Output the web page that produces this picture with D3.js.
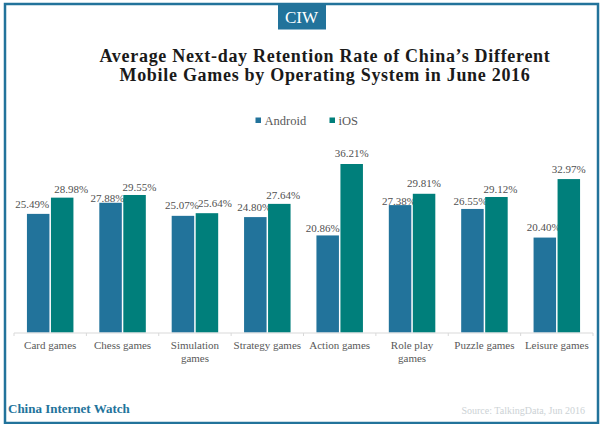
<!DOCTYPE html>
<html>
<head>
<meta charset="utf-8">
<script src="https://cdn.jsdelivr.net/npm/d3@7"></script>
<style>
  html, body { margin: 0; padding: 0; background: #fff; }
  text { font-family: "Liberation Serif", serif; }
</style>
</head>
<body>
<div id="chart"></div>
<script>
const categories = [["Card games"], ["Chess games"], ["Simulation", "games"], ["Strategy games"],
  ["Action games"], ["Role play", "games"], ["Puzzle games"], ["Leisure games"]];
const seriesNames = ["Android", "iOS"];
const android = [25.49, 27.88, 25.07, 24.80, 20.86, 27.38, 26.55, 20.40];
const ios = [28.98, 29.55, 25.64, 27.64, 36.21, 29.81, 29.12, 32.97];
const titleLines = ["Average Next-day Retention Rate of China’s Different", "Mobile Games by Operating System in June 2016"];

// labels sit by hand in the original, so each one has its own nudge from the bar
const androidLabelDx = [-6, -3, -1, -1, -5, -1, -2, -1];
const androidLabelDy = [6, 1, 7, 6.5, 3.5, 0, 4, 7];
const iosLabelDx = [9, 5, 8, 4, 0, 0, 4, 0];
const iosLabelDy = [5, 4, 6, 5, 7, 6.5, 4, 6.5];

const blue = "#22739b", teal = "#007f7b";
const width = 600, height = 424;

const svg = d3.select("#chart").append("svg")
  .attr("width", width)
  .attr("height", height)
  .style("display", "block");

// frame and CIW tab
svg.append("rect")
  .attr("x", 5).attr("y", 4)
  .attr("width", 593).attr("height", 419)
  .attr("fill", "#fff")
  .attr("stroke", blue)
  .attr("stroke-width", 2.5);
svg.append("rect")
  .attr("x", 278).attr("y", 3)
  .attr("width", 48).attr("height", 26.5)
  .attr("fill", blue);
svg.append("text")
  .attr("x", 301.5).attr("y", 23)
  .attr("text-anchor", "middle")
  .attr("font-size", 17)
  .attr("fill", "#fff")
  .text("CIW");

// title
svg.selectAll(".title").data(titleLines).enter().append("text")
  .attr("class", "title")
  .attr("x", 325)
  .attr("y", (d, i) => 61.5 + i * 19)
  .attr("text-anchor", "middle")
  .attr("font-size", 18)
  .attr("letter-spacing", 0.7)
  .attr("font-weight", "bold")
  .attr("fill", "#1a1a1a")
  .text(d => d);

// legend
const legendX = [255.5, 329.5];
seriesNames.forEach((name, i) => {
  svg.append("rect")
    .attr("x", legendX[i]).attr("y", 117.5)
    .attr("width", 5.5).attr("height", 5.5)
    .attr("fill", i ? teal : blue);
  svg.append("text")
    .attr("x", legendX[i] + 9).attr("y", 125)
    .attr("font-size", 12.5)
    .attr("fill", "#595959")
    .text(name);
});

// scales
const x = d3.scaleBand().domain(d3.range(categories.length)).range([14, 593]);
const y = d3.scaleLinear().domain([0, 36.21]).range([332.5, 164]);
const barW = 22.5, gap = 1.5;

const groups = svg.selectAll(".group").data(categories).enter().append("g")
  .attr("class", "group")
  .attr("transform", (d, i) => `translate(${x(i) + x.bandwidth() / 2},0)`);

[android, ios].forEach((values, s) => {
  const dx = s ? iosLabelDx : androidLabelDx;
  const dy = s ? iosLabelDy : androidLabelDy;
  groups.append("rect")
    .attr("x", s ? gap / 2 : -gap / 2 - barW)
    .attr("y", (d, i) => y(values[i]))
    .attr("width", barW)
    .attr("height", (d, i) => y(0) - y(values[i]))
    .attr("fill", s ? teal : blue);
  groups.append("text")
    .attr("x", (d, i) => (s ? gap / 2 + barW / 2 : -gap / 2 - barW / 2) + dx[i])
    .attr("y", (d, i) => y(values[i]) - dy[i])
    .attr("text-anchor", "middle")
    .attr("font-size", 11)
    .attr("fill", "#505050")
    .text((d, i) => values[i].toFixed(2) + "%");
});

// x axis
const axis = svg.append("g").attr("transform", "translate(0,333)");
axis.append("line")
  .attr("x1", 14).attr("x2", 593)
  .attr("stroke", "#d9d9d9");
axis.selectAll(".tick").data(d3.range(categories.length + 1)).enter().append("line")
  .attr("class", "tick")
  .attr("x1", i => x.step() * i + 14)
  .attr("x2", i => x.step() * i + 14)
  .attr("y1", 0).attr("y2", 3)
  .attr("stroke", "#d9d9d9");

groups.each(function(lines) {
  d3.select(this).selectAll(".cat").data(lines).enter().append("text")
    .attr("class", "cat")
    .attr("y", (d, i) => 348.5 + i * 13)
    .attr("text-anchor", "middle")
    .attr("font-size", 11)
    .attr("fill", "#595959")
    .text(d => d);
});

// footer
svg.append("text")
  .attr("x", 8).attr("y", 413)
  .attr("font-size", 13)
  .attr("font-weight", "bold")
  .attr("fill", "#22739b")
  .text("China Internet Watch");
svg.append("text")
  .attr("x", 585).attr("y", 414)
  .attr("text-anchor", "end")
  .attr("font-size", 10)
  .attr("fill", "#ccd2d5")
  .text("Source: TalkingData, Jun 2016");
</script>
</body>
</html>
